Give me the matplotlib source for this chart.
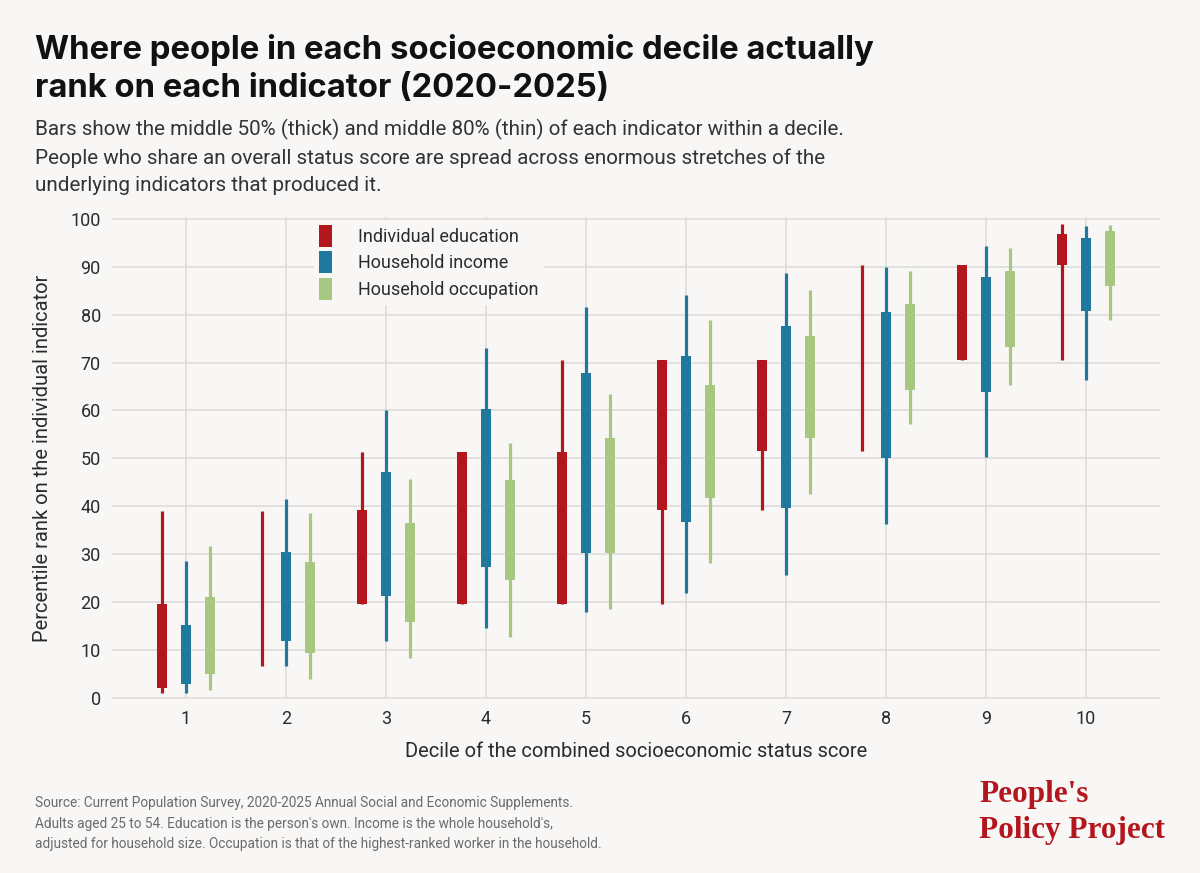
import numpy as np
import matplotlib.pyplot as plt
from matplotlib.patches import Patch

# deciles of the combined status score
deciles = [1, 2, 3, 4, 5, 6, 7, 8, 9, 10]

# percentiles (p10, p25, p75, p90), per indicator
edu_p10 = [1.0, 6.5, 19.5, 19.5, 19.5, 19.5, 39.2, 51.5, 70.6, 70.6]
edu_p25 = [2.0, 19.5, 19.5, 19.5, 19.5, 39.2, 51.5, 51.5, 70.6, 90.3]
edu_p75 = [19.5, 19.5, 39.1, 51.4, 51.4, 70.6, 70.6, 51.5, 90.3, 96.9]
edu_p90 = [39.0, 39.0, 51.4, 51.4, 70.6, 70.6, 70.6, 90.3, 90.3, 98.9]

inc_p10 = [1.0, 6.7, 11.9, 14.6, 17.8, 21.9, 25.6, 36.3, 50.3, 66.3]
inc_p25 = [2.9, 11.9, 21.3, 27.2, 30.1, 36.7, 39.7, 50.0, 63.9, 80.7]
inc_p75 = [15.1, 30.4, 47.2, 60.3, 67.8, 71.4, 77.6, 80.6, 87.9, 96.1]
inc_p90 = [28.6, 41.5, 60.0, 73.1, 81.5, 84.2, 88.6, 90.0, 94.3, 98.6]

occ_p10 = [1.5, 3.8, 8.2, 12.6, 18.6, 28.2, 42.6, 57.2, 65.4, 78.9]
occ_p25 = [4.9, 9.3, 15.7, 24.6, 30.3, 41.7, 54.3, 64.3, 73.2, 86.0]
occ_p75 = [21.0, 28.3, 36.5, 45.4, 54.3, 65.3, 75.6, 82.2, 89.2, 97.4]
occ_p90 = [31.7, 38.6, 45.7, 53.2, 63.5, 78.9, 85.1, 89.2, 93.9, 98.8]

labels = ['Individual education', 'Household income', 'Household occupation']
colors = ['#B3171D', '#21789E', '#A8C882']

bg = '#F8F7F5'
text_col = '#2B2B2B'

fig = plt.figure(figsize=(12, 8.73), dpi=100, facecolor=bg)
ax = fig.add_axes([0.0933, 0.1993, 0.8733, 0.5516], facecolor=bg)

x = np.array(deciles, dtype=float)
series = [
    (edu_p10, edu_p25, edu_p75, edu_p90),
    (inc_p10, inc_p25, inc_p75, inc_p90),
    (occ_p10, occ_p25, occ_p75, occ_p90),
]
offsets = [-0.24, 0.0, 0.24]

for (p10, p25, p75, p90), off, col in zip(series, offsets, colors):
    p10, p25, p75, p90 = map(np.array, (p10, p25, p75, p90))
    # thin line = middle 80%, thick bar = middle 50%
    ax.vlines(x + off, p10, p90, colors=col, linewidth=2.3, capstyle='butt', zorder=3)
    ax.bar(x + off, p75 - p25, bottom=p25, width=0.1, color=col, linewidth=0, zorder=4)

ax.set_xlim(0.26, 10.74)
ax.set_ylim(-0.3, 100.3)
ax.set_yticks(range(0, 101, 10))
ax.set_xticks(deciles)
ax.grid(True, color='#DEDDDB', linewidth=1.2, zorder=0)
ax.set_axisbelow(True)
for s in ax.spines.values():
    s.set_visible(False)
ax.tick_params(length=0, labelsize=13, labelcolor=text_col, pad=8)
for lab in ax.get_xticklabels() + ax.get_yticklabels():
    lab.set_family('Roboto')

ax.set_xlabel('Decile of the combined socioeconomic status score', fontsize=14.5,
              color=text_col, family='Roboto', labelpad=10)
ax.set_ylabel('Percentile rank on the individual indicator', fontsize=14.5,
              color=text_col, family='Roboto', labelpad=13)

handles = [Patch(facecolor=c, edgecolor='none') for c in colors]
leg = ax.legend(handles, labels, loc='upper left', bbox_to_anchor=(0.184, 1.0145),
                frameon=True, facecolor=bg, edgecolor='none', framealpha=1,
                handlelength=0.7, handleheight=1.5, handletextpad=1.45,
                labelspacing=0.25, borderpad=0.3,
                prop={'family': 'Roboto', 'size': 13})
for t in leg.get_texts():
    t.set_color(text_col)

fig.text(0.029, 0.9616, 'Where people in each socioeconomic decile actually\nrank on each indicator (2020-2025)',
         fontsize=23.7, fontweight='bold', family='Inter', color='#111111',
         va='top', linespacing=1.3)

fig.text(0.029, 0.8637, 'Bars show the middle 50% (thick) and middle 80% (thin) of each indicator within a decile.\n'
         'People who share an overall status score are spread across enormous stretches of the\n'
         'underlying indicators that produced it.',
         fontsize=14.9, family='Roboto', color='#333333', va='top', linespacing=1.53)

fig.text(0.029, 0.0882, 'Source: Current Population Survey, 2020-2025 Annual Social and Economic Supplements.\n'
         'Adults aged 25 to 54. Education is the person\'s own. Income is the whole household\'s,\n'
         'adjusted for household size. Occupation is that of the highest-ranked worker in the household.',
         fontsize=9.85, family='Roboto', color='#6B6B6B', va='top', linespacing=1.6)

fig.text(0.816, 0.107, "People's\nPolicy Project", fontsize=22.5, fontweight='bold',
         family='Liberation Serif', color='#B3171D', va='top', linespacing=1.35)

fig.savefig('out.png', dpi=100, facecolor=bg)
